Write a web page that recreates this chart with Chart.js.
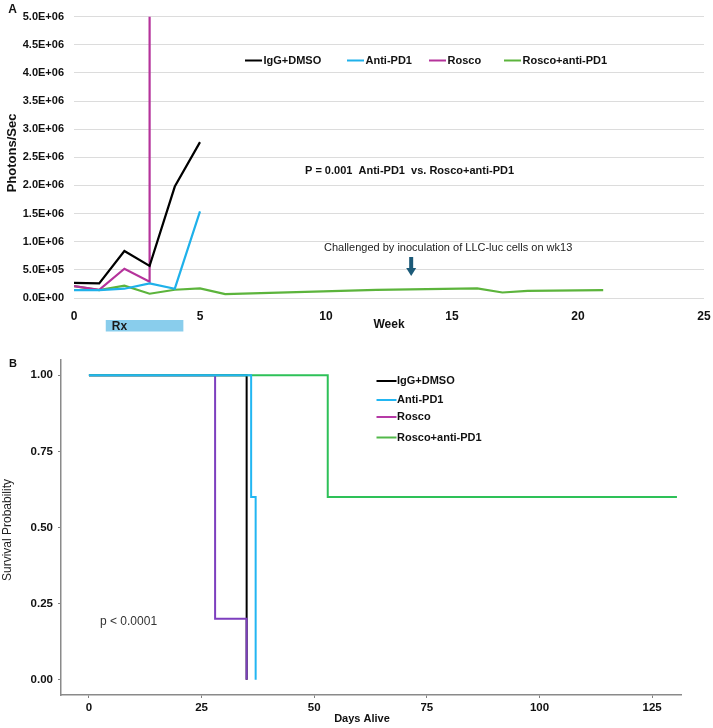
<!DOCTYPE html>
<html>
<head>
<meta charset="utf-8">
<script src="https://cdn.jsdelivr.net/npm/chart.js@4.4.1/dist/chart.umd.min.js"></script>
<style>
  html, body { margin: 0; padding: 0; background: #fff; overflow: hidden; width: 713px; height: 728px; }
  #wrapA { position: absolute; left: 0; top: 0; width: 720px; height: 340px; }
  #wrapB { position: absolute; left: 0; top: 340px; width: 713px; height: 388px; }
</style>
</head>
<body>
<div id="wrapA"><canvas id="chartA" width="720" height="340"></canvas></div>
<div id="wrapB"><canvas id="chartB" width="713" height="388"></canvas></div>
<script>
// ---------- Panel A data (weeks, photons/sec) ----------
const seriesNamesA = ['IgG+DMSO', 'Anti-PD1', 'Rosco', 'Rosco+anti-PD1'];
const iggWeeks = [0, 1, 2, 3, 4, 5];
const iggValues = [270000, 260000, 835000, 570000, 1980000, 2770000];
const antiWeeks = [0, 1, 2, 3, 4, 5];
const antiValues = [140000, 140000, 165000, 260000, 165000, 1540000];
const roscoWeeks = [0, 1, 2, 3, 3];
const roscoValues = [210000, 145000, 520000, 290000, 5000000];
const comboWeeks = [0, 1, 2, 3, 4, 5, 6, 12, 16, 17, 18, 21];
const comboValues = [210000, 140000, 220000, 76000, 147000, 170000, 70000, 145000, 172000, 98000, 128000, 140000];
const yTicksA = [0, 500000, 1000000, 1500000, 2000000, 2500000, 3000000, 3500000, 4000000, 4500000, 5000000];
const yTickLabelsA = ['0.0E+00', '5.0E+05', '1.0E+06', '1.5E+06', '2.0E+06', '2.5E+06', '3.0E+06', '3.5E+06', '4.0E+06', '4.5E+06', '5.0E+06'];
const xTicksA = [0, 5, 10, 15, 20, 25];
const rxWeeks = [1.26, 4.34];
const challengeWeek = 13.38;

// ---------- Panel B data (days, survival probability) ----------
const seriesNamesB = ['IgG+DMSO', 'Anti-PD1', 'Rosco', 'Rosco+anti-PD1'];
const iggDays = [0, 35];
const iggSurv = [1, 0];
const antiDays = [0, 36, 37];
const antiSurv = [1, 0.6, 0];
const roscoDays = [0, 28, 35];
const roscoSurv = [1, 0.2, 0];
const comboDays = [0, 53, 130.5];
const comboSurv = [1, 0.6, 0.6];
const xTicksB = [0, 25, 50, 75, 100, 125];
const yTicksB = [0, 0.25, 0.5, 0.75, 1];
const yTickLabelsB = ['0.00', '0.25', '0.50', '0.75', '1.00'];

const FONT = '"Liberation Sans", Arial, Helvetica, sans-serif';
const pts = (xs, ys) => xs.map((x, i) => ({ x: x, y: ys[i] }));

const colA = { igg: '#000000', anti: '#1fb1ea', rosco: '#b5339b', combo: '#5cb43c' };
const colB = { igg: '#000000', anti: '#22b6f2', rosco: '#7d3fbe', combo: '#2ec158' };
const legColB = ['#000000', '#22b6f2', '#b63aa6', '#52b84a'];

function txt(ctx, s, x, y, font, color, align, rot) {
  ctx.save();
  ctx.font = font;
  ctx.fillStyle = color;
  ctx.textAlign = align || 'left';
  ctx.textBaseline = 'middle';
  ctx.translate(x, y);
  if (rot) ctx.rotate(rot);
  ctx.fillText(s, 0, 0);
  ctx.restore();
}

// ---------- Panel A ----------
const overlayA = {
  id: 'overlayA',
  afterDraw(chart) {
    const ctx = chart.ctx;
    const xs = chart.scales.x;
    // Legend
    const legX = [245, 347, 429, 504];
    const legC = [colA.igg, colA.anti, colA.rosco, colA.combo];
    const legY = 60.5;
    seriesNamesA.forEach((n, i) => {
      ctx.save();
      ctx.strokeStyle = legC[i];
      ctx.lineWidth = 2;
      ctx.beginPath();
      ctx.moveTo(legX[i], legY);
      ctx.lineTo(legX[i] + 17, legY);
      ctx.stroke();
      ctx.restore();
      txt(ctx, n, legX[i] + 18.5, legY, 'bold 11px ' + FONT, '#111', 'left');
    });
    txt(ctx, 'P = 0.001  Anti-PD1  vs. Rosco+anti-PD1', 305, 171, 'bold 11px ' + FONT, '#111', 'left');
    txt(ctx, 'Challenged by inoculation of LLC-luc cells on wk13', 324, 248, '11px ' + FONT, '#222', 'left');
    // Arrow
    const ax = xs.getPixelForValue(challengeWeek);
    ctx.save();
    ctx.fillStyle = '#1c5a78';
    ctx.fillRect(ax - 2, 257, 4, 12);
    ctx.beginPath();
    ctx.moveTo(ax - 5, 268);
    ctx.lineTo(ax + 5, 268);
    ctx.lineTo(ax, 276);
    ctx.closePath();
    ctx.fill();
    ctx.restore();
    // Rx bar
    const r0 = xs.getPixelForValue(rxWeeks[0]);
    const r1 = xs.getPixelForValue(rxWeeks[1]);
    ctx.save();
    ctx.fillStyle = '#89cdec';
    ctx.fillRect(r0, 320, r1 - r0, 11.5);
    ctx.restore();
    txt(ctx, 'Rx', r0 + 6, 326.5, 'bold 12px ' + FONT, '#1a1a1a', 'left');
    // Titles
    txt(ctx, 'Week', 389, 325, 'bold 12px ' + FONT, '#111', 'center');
    txt(ctx, 'Photons/Sec', 12.5, 153, 'bold 13px ' + FONT, '#111', 'center', -Math.PI / 2);
    txt(ctx, 'A', 12.5, 10, 'bold 12px ' + FONT, '#111', 'center');
  }
};

new Chart(document.getElementById('chartA'), {
  type: 'line',
  data: {
    datasets: [
      { label: seriesNamesA[0], data: pts(iggWeeks, iggValues), borderColor: colA.igg },
      { label: seriesNamesA[1], data: pts(antiWeeks, antiValues), borderColor: colA.anti },
      { label: seriesNamesA[2], data: pts(roscoWeeks, roscoValues), borderColor: colA.rosco },
      { label: seriesNamesA[3], data: pts(comboWeeks, comboValues), borderColor: colA.combo }
    ]
  },
  options: {
    responsive: false,
    animation: false,
    events: [],
    elements: { point: { radius: 0 }, line: { borderWidth: 2.2, tension: 0, borderJoinStyle: 'miter' } },
    layout: { padding: { left: 0, top: 15, right: 16, bottom: 0 } },
    plugins: { legend: { display: false }, tooltip: { enabled: false } },
    scales: {
      x: {
        type: 'linear', min: 0, max: 25,
        afterBuildTicks: s => { s.ticks = xTicksA.map(v => ({ value: v })); },
        afterFit: s => { s.height = 42; },
        grid: { display: false },
        border: { display: false },
        ticks: { font: { family: FONT, size: 12, weight: 'bold' }, color: '#111', padding: 3, maxRotation: 0 }
      },
      y: {
        type: 'linear', min: 0, max: 5000000,
        afterBuildTicks: s => { s.ticks = yTicksA.map(v => ({ value: v })); },
        afterFit: s => { s.width = 74; },
        grid: { color: '#dcdcdc', lineWidth: 1, drawTicks: false },
        border: { display: false },
        ticks: {
          font: { family: FONT, size: 11, weight: 'bold' }, color: '#111', padding: 10,
          callback: (v, i) => yTickLabelsA[i]
        }
      }
    }
  },
  plugins: [overlayA]
});

// ---------- Panel B ----------
const overlayB = {
  id: 'overlayB',
  afterDraw(chart) {
    const ctx = chart.ctx;
    const legY = [41, 60, 77, 97.5];
    seriesNamesB.forEach((n, i) => {
      ctx.save();
      ctx.strokeStyle = legColB[i];
      ctx.lineWidth = 2;
      ctx.beginPath();
      ctx.moveTo(376.5, legY[i]);
      ctx.lineTo(396.5, legY[i]);
      ctx.stroke();
      ctx.restore();
      txt(ctx, n, 397, legY[i], 'bold 11px ' + FONT, '#111', 'left');
    });
    txt(ctx, 'p < 0.0001', 100, 282, '12px ' + FONT, '#333', 'left');
    txt(ctx, 'B', 13, 23.5, 'bold 11px ' + FONT, '#111', 'center');
    txt(ctx, 'Survival Probability', 8, 190, '12px ' + FONT, '#222', 'center', -Math.PI / 2);
    txt(ctx, 'Days Alive', 362, 379, 'bold 11px ' + FONT, '#111', 'center');
  }
};

new Chart(document.getElementById('chartB'), {
  type: 'line',
  data: {
    datasets: [
      { label: seriesNamesB[1], data: pts(antiDays, antiSurv), borderColor: colB.anti, order: 0 },
      { label: seriesNamesB[3], data: pts(comboDays, comboSurv), borderColor: colB.combo, order: 1 },
      { label: seriesNamesB[2], data: pts(roscoDays, roscoSurv), borderColor: colB.rosco, order: 2 },
      { label: seriesNamesB[0], data: pts(iggDays, iggSurv), borderColor: colB.igg, order: 3 }
    ]
  },
  options: {
    responsive: false,
    animation: false,
    events: [],
    elements: { point: { radius: 0 }, line: { borderWidth: 2, tension: 0, stepped: 'before', borderJoinStyle: 'miter' } },
    layout: { padding: { left: 0, top: 20, right: 32, bottom: 0 } },
    plugins: { legend: { display: false }, tooltip: { enabled: false } },
    scales: {
      x: {
        type: 'linear', min: -6.2, max: 131.4,
        afterBuildTicks: s => { s.ticks = xTicksB.map(v => ({ value: v })); },
        afterFit: s => { s.height = 33; },
        grid: { drawOnChartArea: false, drawTicks: true, tickLength: 3, color: '#808080', lineWidth: 1 },
        border: { display: true, color: '#8a8a8a', width: 1.5 },
        ticks: { font: { family: FONT, size: 11.5, weight: 'bold' }, color: '#111', padding: 3, maxRotation: 0 }
      },
      y: {
        type: 'linear', min: -0.05, max: 1.05,
        afterBuildTicks: s => { s.ticks = yTicksB.map(v => ({ value: v })); },
        afterFit: s => { s.width = 61; },
        grid: { drawOnChartArea: false, drawTicks: true, tickLength: 3, color: '#808080', lineWidth: 1 },
        border: { display: true, color: '#8a8a8a', width: 1.5 },
        ticks: {
          font: { family: FONT, size: 11.5, weight: 'bold' }, color: '#111', padding: 5,
          callback: (v, i) => yTickLabelsB[i]
        }
      }
    }
  },
  plugins: [overlayB]
});
</script>
</body>
</html>
